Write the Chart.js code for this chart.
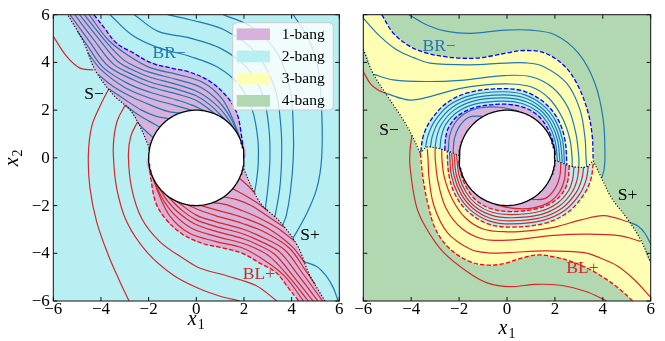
<!DOCTYPE html>
<html>
<head>
<meta charset="utf-8">
<script src="https://cdn.jsdelivr.net/npm/chart.js@4.4.1/dist/chart.umd.min.js"></script>
<style>
  html, body { margin:0; padding:0; background:#fff; width:665px; height:341px; overflow:hidden; }
  #c1 { position:absolute; left:0; top:0; }
  #c2 { position:absolute; left:340px; top:0; }
</style>
</head>
<body>
<canvas id="c1" width="345" height="341"></canvas>
<canvas id="c2" width="325" height="341"></canvas>
<script>
// ---------------- shared values ----------------
const tickValues = [-6, -4, -2, 0, 2, 4, 6];
const tickLabels = ['−6', '−4', '−2', '0', '2', '4', '6'];
const obstacle = { x: 0, y: 0, r: 2 };
const legendNames = ['1-bang', '2-bang', '3-bang', '4-bang'];

// ---------------- left panel ----------------
const L_Sminus = [[-5.44,6.07],[-4.74,4.88],[-4.25,3.69],[-3.48,2.64],[-2.78,2.01],[-2.36,1.31],[-1.94,0.34]];
const L_Splus  = [[1.94,-0.34],[2.36,-1.31],[2.78,-2.01],[3.48,-2.64],[4.25,-3.69],[4.74,-4.88],[5.44,-6.07]];
const L_BRminus = [[-4.3,6],[-3.9,5.5],[-3.34,4.8],[-2.64,4.4],[-1.94,4.0],[-1.0,3.75],[-0.3,3.6],[0.58,3.2],[1.28,2.57],[1.7,1.88],[1.9,0.9],[2.0,0.0]];
const L_BLplus  = [[-2.0,0.0],[-1.9,-0.9],[-1.7,-1.88],[-1.28,-2.57],[-0.58,-3.2],[0.3,-3.6],[1.0,-3.75],[1.94,-4.0],[2.64,-4.4],[3.34,-4.8],[3.9,-5.5],[4.3,-6]];
const L_topOut = [[-5.7,6.7],[-4.0,6.7]];
const L_botOut = [[5.7,-6.7],[4.0,-6.7]];

const leftUpperBand = [
  [[-4.5,6],[-3.7,4.95],[-2.9,4.32],[-1.94,3.78],[-0.8,3.5],[0.3,3.15],[1.1,2.45],[1.6,1.45],[1.96,0.42]],
  [[-4.7,6],[-3.9,5.0],[-3.1,4.15],[-2.5,3.8],[-1.94,3.58],[-0.8,3.28],[0.2,2.95],[0.95,2.35],[1.45,1.65],[1.81,0.85]],
  [[-4.9,6],[-4.1,5.0],[-3.3,4.05],[-2.6,3.65],[-1.94,3.38],[-0.8,3.07],[0.1,2.75],[0.8,2.25],[1.25,1.75],[1.58,1.23]],
  [[-5.1,6],[-4.3,4.95],[-3.5,3.95],[-2.7,3.5],[-1.94,3.18],[-0.8,2.87],[0.0,2.6],[0.6,2.2],[1.23,1.58]],
  [[-5.3,6],[-4.5,4.9],[-3.7,3.85],[-2.6,3.25],[-1.94,2.98],[-0.8,2.67],[0.0,2.4],[0.81,1.83]],
  [[-4.99,5.3],[-4.6,4.75],[-3.9,3.78],[-2.8,3.08],[-1.94,2.75],[-0.8,2.42],[-0.2,2.22],[0.35,1.97]],
  [[-4.55,4.4],[-4.0,3.7],[-3.0,2.95],[-1.94,2.5],[-0.9,2.2],[-0.17,1.99]],
  [[-4.12,3.5],[-3.5,3.0],[-2.7,2.55],[-1.94,2.22],[-1.2,1.95],[-0.68,1.88]],
  [[-3.68,2.9],[-3.0,2.45],[-2.3,2.0],[-1.7,1.75],[-1.15,1.64]],
  [[-2.99,2.2],[-2.5,1.85],[-2.0,1.55],[-1.53,1.29]],
  [[-2.47,1.5],[-2.2,1.2],[-1.81,0.85]]
];
const leftLowerBand = [
  [[4.5,-6],[3.7,-4.95],[2.9,-4.32],[1.94,-3.78],[0.8,-3.5],[-0.3,-3.15],[-1.1,-2.45],[-1.6,-1.45],[-1.96,-0.42]],
  [[4.7,-6],[3.9,-5.0],[3.1,-4.15],[2.5,-3.8],[1.94,-3.58],[0.8,-3.28],[-0.2,-2.95],[-0.95,-2.35],[-1.45,-1.65],[-1.81,-0.85]],
  [[4.9,-6],[4.1,-5.0],[3.3,-4.05],[2.6,-3.65],[1.94,-3.38],[0.8,-3.07],[-0.1,-2.75],[-0.8,-2.25],[-1.25,-1.75],[-1.58,-1.23]],
  [[5.1,-6],[4.3,-4.95],[3.5,-3.95],[2.7,-3.5],[1.94,-3.18],[0.8,-2.87],[0.0,-2.6],[-0.6,-2.2],[-1.23,-1.58]],
  [[5.3,-6],[4.5,-4.9],[3.7,-3.85],[2.6,-3.25],[1.94,-2.98],[0.8,-2.67],[0.0,-2.4],[-0.81,-1.83]],
  [[4.99,-5.3],[4.6,-4.75],[3.9,-3.78],[2.8,-3.08],[1.94,-2.75],[0.8,-2.42],[0.2,-2.22],[-0.35,-1.97]],
  [[4.55,-4.4],[4.0,-3.7],[3.0,-2.95],[1.94,-2.5],[0.9,-2.2],[0.17,-1.99]],
  [[4.12,-3.5],[3.5,-3.0],[2.7,-2.55],[1.94,-2.22],[1.2,-1.95],[0.68,-1.88]],
  [[3.68,-2.9],[3.0,-2.45],[2.3,-2.0],[1.7,-1.75],[1.15,-1.64]],
  [[2.99,-2.2],[2.5,-1.85],[2.0,-1.55],[1.53,-1.29]],
  [[2.47,-1.5],[2.2,-1.2],[1.81,-0.85]]
];
const leftOuterBlue = [
  [[-3.62,6],[-2.7,5.15],[-1.6,4.62],[-0.26,4.25],[0.9,3.8],[1.8,3.05],[2.35,2.0],[2.58,0.8],[2.6,-0.2],[2.52,-1.0],[2.44,-1.45]],
  [[-2.6,6],[-1.6,5.3],[-0.26,5.02],[1.0,4.6],[2.1,3.8],[2.8,2.6],[3.05,1.2],[3.09,0.0],[3.02,-1.1],[2.9,-2.1]],
  [[-1.2,6],[-0.26,5.79],[1.2,5.35],[2.5,4.4],[3.3,2.9],[3.55,1.3],[3.58,0.0],[3.5,-1.3],[3.3,-2.47]],
  [[1.13,6],[2.3,5.5],[3.4,4.4],[3.95,2.8],[4.07,1.2],[4.07,0.0],[3.95,-1.4],[3.78,-2.4],[3.62,-2.83]],
  [[4.07,6],[4.7,5.0],[5.1,3.8],[5.26,2.0],[5.26,0.0],[5.05,-1.3],[4.6,-2.4],[4.04,-3.4]],
  [[4.52,-4.35],[5.05,-4.55],[5.45,-4.95],[5.75,-5.45],[5.95,-6]]
];
const leftOuterRed = [
  [[-6,5.09],[-5.44,4.25],[-4.88,3.76],[-4.32,3.69]],
  [[-3.67,2.9],[-4.05,2.15],[-4.39,1.31],[-4.53,0.1],[-4.46,-1.28],[-4.18,-2.68],[-3.69,-4.08],[-3.2,-5.2],[-2.82,-6]],
  [[-2.99,2.2],[-3.3,1.6],[-3.45,0.9],[-3.48,0.1],[-3.34,-1.28],[-2.92,-2.68],[-2.08,-3.94],[-0.96,-4.92],[0.16,-5.5],[1.0,-5.8],[1.83,-6]],
  [[-2.47,1.5],[-2.75,0.9],[-2.85,0.1],[-2.71,-1.28],[-2.29,-2.54],[-1.52,-3.52],[-0.54,-4.22],[0.16,-4.63],[1.3,-4.95],[2.5,-5.35],[3.38,-6]]
];

// ---------------- right panel ----------------
const R_Sminus = [[-6.0,4.55],[-5.6,3.55],[-5.0,2.6],[-4.4,1.7],[-3.97,0.95],[-3.62,0.18]];
const R_dotL   = [[-3.62,0.18],[-3.35,0.45],[-3.0,0.42],[-2.6,0.32],[-2.3,0.22],[-2.0,0.1]];
const R_dotR   = [[2.0,-0.1],[2.3,-0.22],[2.6,-0.33],[3.0,-0.4],[3.35,-0.36],[3.6,-0.12]];
const R_Splus  = [[3.6,-0.12],[3.95,-0.85],[4.37,-1.69],[5.06,-2.6],[5.62,-3.51],[6.0,-4.4]];
const R_BRout  = [[-5.23,6],[-4.75,5.23],[-4.05,4.67],[-3.35,4.39],[-2.66,4.25],[-1.96,4.18],[-1.27,4.18],[-0.6,4.28],[0.0,4.4],[0.75,4.5],[1.59,4.39],[2.42,3.83],[2.98,2.99],[3.39,1.88],[3.56,0.9],[3.6,-0.12]];
const R_BRin   = [[-3.6,0.25],[-3.5,0.9],[-3.2,1.55],[-2.52,2.3],[-1.55,2.75],[-0.2,2.9],[0.75,2.78],[1.59,2.29],[2.14,1.59],[2.42,0.75],[2.5,-0.28]];
const R_BRcore = [[-2.6,0.32],[-2.55,0.9],[-2.4,1.35],[-2.0,1.8],[-1.3,2.12],[-0.2,2.25],[0.6,2.15],[1.2,1.85],[1.6,1.4],[1.9,0.75],[2.02,0.1]];
const R_BLout  = [[5.25,-6],[4.7,-5.5],[4.09,-5.05],[3.4,-4.65],[2.7,-4.35],[1.96,-4.15],[1.31,-4.07],[0.6,-4.2],[-0.09,-4.42],[-0.75,-4.5],[-1.55,-4.35],[-2.4,-3.8],[-2.98,-3.0],[-3.3,-1.95],[-3.5,-0.9],[-3.62,0.18]];
const R_BLin   = [[3.6,-0.25],[3.5,-0.9],[3.2,-1.55],[2.52,-2.3],[1.55,-2.75],[0.2,-2.9],[-0.75,-2.78],[-1.59,-2.29],[-2.14,-1.59],[-2.42,-0.75],[-2.5,0.28]];
const R_BLcore = [[2.6,-0.32],[2.55,-0.9],[2.4,-1.35],[2.0,-1.8],[1.3,-2.12],[0.2,-2.25],[-0.6,-2.15],[-1.2,-1.85],[-1.6,-1.4],[-1.9,-0.75],[-2.02,-0.1]];
const R_tlOut = [[-6.7,4.6],[-6.7,6.7],[-5.3,6.7]];
const R_brOut = [[6.7,-4.5],[6.7,-6.7],[5.3,-6.7]];
const fullSquare = [[-7,-7],[7,-7],[7,7],[-7,7]];

const rightBlue = [
  [[-4.1,6],[-3.3,5.55],[-2.5,5.3],[-1.5,5.22],[-0.1,5.35],[1.0,5.35],[2.0,5.16],[2.98,4.39],[3.67,3.13],[4.02,1.59],[4.09,0.05],[4.05,-0.5],[3.95,-0.85]],
  [[5.12,-2.7],[5.45,-2.85],[5.75,-3.15],[6.02,-3.65]],
  [[-6.0,5.85],[-5.3,5.09],[-4.61,4.53],[-3.9,4.2],[-3.22,3.97],[-1.55,3.9],[-0.09,3.97],[0.8,3.98],[1.52,3.83],[2.49,3.13],[3.05,2.01],[3.26,0.8],[3.3,0.0],[3.33,-0.37]],
  [[-5.57,3.5],[-4.75,3.27],[-3.35,3.2],[-1.96,3.25],[-0.09,3.45],[1.0,3.4],[1.9,2.95],[2.55,2.1],[2.88,1.0],[3.0,0.0],[3.0,-0.4]],
  [[-5.06,2.7],[-4.05,2.42],[-3.1,2.6],[-2.0,2.9],[-1.0,3.05],[0,3.1],[1.0,2.98],[1.75,2.5],[2.3,1.7],[2.62,0.8],[2.72,0.0],[2.72,-0.38]],
  [[-3.4,0.44],[-3.31,0.9],[-3.04,1.51],[-2.42,2.2],[-1.5,2.62],[-0.2,2.77],[0.72,2.65],[1.51,2.2],[2.03,1.55],[2.32,0.75],[2.4,-0.25]],
  [[-3.2,0.44],[-3.12,0.9],[-2.88,1.47],[-2.31,2.1],[-1.45,2.5],[-0.2,2.64],[0.69,2.53],[1.43,2.11],[1.92,1.51],[2.21,0.75],[2.31,-0.2]],
  [[-3.0,0.42],[-2.93,0.9],[-2.72,1.43],[-2.21,2.0],[-1.4,2.38],[-0.2,2.51],[0.66,2.4],[1.36,2.03],[1.82,1.47],[2.11,0.75],[2.21,-0.17]],
  [[-2.8,0.37],[-2.74,0.9],[-2.56,1.39],[-2.1,1.9],[-1.35,2.25],[-0.2,2.38],[0.63,2.28],[1.28,1.94],[1.71,1.44],[2.0,0.75],[2.11,-0.14]],
  [[-2.45,0.27],[-2.4,0.9],[-2.2,1.42],[-1.78,1.85],[-1.1,2.1],[-0.3,2.12],[0.5,1.96]],
  [[-2.25,0.2],[-2.2,0.8],[-2.0,1.3],[-1.6,1.7],[-1.05,1.75]]
];
const rightRed = [
  [[4.16,-6],[3.3,-5.6],[2.3,-5.35],[1.2,-5.3],[0.13,-5.4],[-0.8,-5.25],[-1.55,-4.85],[-2.66,-3.95],[-3.4,-2.9],[-3.8,-1.97],[-4.05,-0.36],[-4.05,0.3],[-3.97,0.95]],
  [[-5.06,2.7],[-5.4,2.85],[-5.7,3.1],[-6.02,3.65]],
  [[6.0,-5.85],[5.3,-5.09],[4.61,-4.53],[3.9,-4.2],[3.22,-3.97],[1.55,-3.9],[0.09,-3.97],[-0.8,-3.98],[-1.52,-3.83],[-2.49,-3.13],[-3.05,-2.01],[-3.26,-0.8],[-3.3,0.0],[-3.33,0.37]],
  [[5.57,-3.5],[4.75,-3.27],[3.35,-3.2],[1.96,-3.25],[0.09,-3.45],[-1.0,-3.4],[-1.9,-2.95],[-2.55,-2.1],[-2.88,-1.0],[-3.0,0.0],[-3.0,0.4]],
  [[5.12,-2.7],[4.05,-2.42],[3.1,-2.6],[2.0,-2.9],[1.0,-3.05],[0,-3.1],[-1.0,-2.98],[-1.75,-2.5],[-2.3,-1.7],[-2.62,-0.8],[-2.72,0.0],[-2.72,0.38]],
  [[3.4,-0.33],[3.31,-0.9],[3.04,-1.51],[2.42,-2.2],[1.5,-2.62],[0.2,-2.77],[-0.72,-2.65],[-1.51,-2.2],[-2.03,-1.55],[-2.32,-0.75],[-2.4,0.25]],
  [[3.2,-0.39],[3.12,-0.9],[2.88,-1.47],[2.31,-2.1],[1.45,-2.5],[0.2,-2.64],[-0.69,-2.53],[-1.43,-2.11],[-1.92,-1.51],[-2.21,-0.75],[-2.31,0.2]],
  [[3.0,-0.4],[2.93,-0.9],[2.72,-1.43],[2.21,-2.0],[1.4,-2.38],[0.2,-2.51],[-0.66,-2.4],[-1.36,-2.03],[-1.82,-1.47],[-2.11,-0.75],[-2.21,0.17]],
  [[2.8,-0.37],[2.74,-0.9],[2.56,-1.39],[2.1,-1.9],[1.35,-2.25],[0.2,-2.38],[-0.63,-2.28],[-1.28,-1.94],[-1.71,-1.44],[-2.0,-0.75],[-2.11,0.14]],
  [[2.45,-0.27],[2.4,-0.9],[2.2,-1.42],[1.78,-1.85],[1.1,-2.1],[0.3,-2.12],[-0.5,-1.96]],
  [[2.25,-0.2],[2.2,-0.8],[2.0,-1.3],[1.6,-1.7],[1.05,-1.75]]
];

// annotation texts (anchor in data units)
const leftNotes = [
  { text: 'BR−', x: -1.14, y: 4.36, color: '#1f77b4' },
  { text: 'S−',  x: -4.29, y: 2.68, color: '#000000' },
  { text: 'S+',  x: 4.77,  y: -3.27, color: '#000000' },
  { text: 'BL+', x: 2.63,  y: -4.87, color: '#d62728' }
];
const rightNotes = [
  { text: 'BR−', x: -2.83, y: 4.67, color: '#1f77b4' },
  { text: 'S−',  x: -4.92, y: 1.14, color: '#000000' },
  { text: 'S+',  x: 5.03,  y: -1.59, color: '#000000' },
  { text: 'BL+', x: 3.15,  y: -4.63, color: '#d62728' }
];

// ---------------- styling / helpers ----------------
const COL = {
  purple: 'rgb(216,178,218)', cyan: 'rgb(183,239,242)', yellow: 'rgb(255,255,179)', green: 'rgb(178,216,178)',
  blue: '#1f77b4', red: '#d62728', bBlue: '#0000ff', bRed: '#ff0000'
};
const FONT = '"Liberation Serif", "Times New Roman", serif';
const DASH = [4.5, 2];
const DOT = [1.2, 1.8];
const TENSION = 0.35;

const toXY = a => a.map(p => ({ x: p[0], y: p[1] }));
const rev = a => a.slice().reverse();
const center = [[obstacle.x, obstacle.y]];

function area(poly, color) {
  return { data: toXY(poly), showLine: true, fill: 'shape', backgroundColor: color,
    borderColor: color, borderWidth: 0.6, pointRadius: 0, tension: TENSION, clip: 0 };
}
function curve(a, color, width, dash) {
  return { data: toXY(a), showLine: true, fill: false, borderColor: color,
    borderWidth: width || 1.2, borderDash: dash || [], pointRadius: 0, tension: TENSION };
}
function disk() {
  const pts = [];
  for (let i = 0; i <= 144; i++) {
    const t = i / 144 * 2 * Math.PI;
    pts.push([obstacle.x + obstacle.r * Math.cos(t), obstacle.y + obstacle.r * Math.sin(t)]);
  }
  return { data: toXY(pts), showLine: true, fill: 'shape', backgroundColor: '#ffffff',
    borderColor: '#000000', borderWidth: 1.3, pointRadius: 0, tension: 0 };
}
function ordered(list) { list.forEach((d, i) => { d.order = -i; }); return list; }

const leftDatasets = ordered([
  area(fullSquare, COL.cyan),
  area([...rev(L_Sminus), ...L_topOut, ...L_BRminus, ...center], COL.purple),
  area([...L_Splus, ...L_botOut, ...rev(L_BLplus), ...center], COL.purple),
  ...leftUpperBand.map(a => curve(a, COL.blue)),
  ...leftOuterBlue.map(a => curve(a, COL.blue)),
  ...leftLowerBand.map(a => curve(a, COL.red)),
  ...leftOuterRed.map(a => curve(a, COL.red)),
  curve(L_BRminus, COL.bBlue, 1.3, DASH),
  curve(L_BLplus, COL.bRed, 1.3, DASH),
  curve(L_Sminus, '#000', 1.1, DOT),
  curve(L_Splus, '#000', 1.1, DOT),
  disk()
]);

const rightDatasets = ordered([
  area(fullSquare, COL.green),
  area([...R_BRout, ...rev(R_dotR).slice(1, 4), ...rev(R_BRin), ...rev(R_Sminus).slice(1), ...R_tlOut], COL.yellow),
  area([...R_BLout, ...R_dotL.slice(1, 4), ...rev(R_BLin), ...R_Splus.slice(1), ...R_brOut], COL.yellow),
  area([...R_BRin, ...rev(R_dotR).slice(4), ...center, ...rev(R_dotL).slice(0, 5)], COL.cyan),
  area([...R_BLin, ...R_dotL.slice(4), ...center, ...R_dotR.slice(0, 5)], COL.cyan),
  area([...R_BRcore, ...center, ...rev(R_dotL).slice(0, 2)], COL.purple),
  area([...R_BLcore, ...center, ...R_dotR.slice(0, 2)], COL.purple),
  ...rightBlue.map(a => curve(a, COL.blue)),
  ...rightRed.map(a => curve(a, COL.red)),
  curve(R_BRout, COL.bBlue, 1.3, DASH),
  curve(R_BRin, COL.bBlue, 1.3, DASH),
  curve(R_BRcore, COL.bBlue, 1.3, DASH),
  curve(R_BLout, COL.bRed, 1.3, DASH),
  curve(R_BLin, COL.bRed, 1.3, DASH),
  curve(R_BLcore, COL.bRed, 1.3, DASH),
  curve(R_Sminus, '#000', 1.1, DOT),
  curve(R_dotL, '#000', 1.1, DOT),
  curve(R_dotR, '#000', 1.1, DOT),
  curve(R_Splus, '#000', 1.1, DOT),
  disk()
]);

function subLabel(ctx, main, sub, cx, baseY) {
  ctx.font = 'italic 20px ' + FONT;
  const w1 = ctx.measureText(main).width;
  ctx.font = '14px ' + FONT;
  const w2 = ctx.measureText(sub).width;
  const x0 = cx - (w1 + w2 + 1) / 2;
  ctx.fillStyle = '#000'; ctx.textAlign = 'left'; ctx.textBaseline = 'alphabetic';
  ctx.font = 'italic 20px ' + FONT; ctx.fillText(main, x0, baseY);
  ctx.font = '14px ' + FONT; ctx.fillText(sub, x0 + w1 + 1, baseY + 4);
}

const overlayPlugin = {
  id: 'overlay',
  afterDatasetsDraw(chart, args, o) {
    const ctx = chart.ctx, a = chart.chartArea, sx = chart.scales.x, sy = chart.scales.y;
    ctx.save();
    ctx.textAlign = 'center'; ctx.textBaseline = 'middle';
    ctx.font = '17.5px ' + FONT;
    o.notes.forEach(n => { ctx.fillStyle = n.color; ctx.fillText(n.text, sx.getPixelForValue(n.x), sy.getPixelForValue(n.y)); });
    if (o.legend) {
      const bw = 100.6, bh = 87.3, bx = a.right - 6 - bw, by = a.top + 8;
      ctx.beginPath();
      if (ctx.roundRect) ctx.roundRect(bx, by, bw, bh, 4); else ctx.rect(bx, by, bw, bh);
      ctx.fillStyle = 'rgba(255,255,255,0.8)'; ctx.fill();
      ctx.strokeStyle = '#cccccc'; ctx.lineWidth = 1; ctx.stroke();
      const cols = [COL.purple, COL.cyan, COL.yellow, COL.green];
      legendNames.forEach((name, i) => {
        const cy = by + 11.5 + i * 22.2;
        ctx.fillStyle = cols[i]; ctx.fillRect(bx + 4, cy - 5.8, 33.3, 11.7);
        ctx.fillStyle = '#000'; ctx.font = '15.5px ' + FONT; ctx.textAlign = 'left'; ctx.textBaseline = 'middle';
        ctx.fillText(name, bx + 49, cy + 0.5);
      });
    }
    // frame and inward ticks
    ctx.strokeStyle = '#111'; ctx.lineWidth = 1; ctx.setLineDash([]);
    ctx.strokeRect(a.left, a.top, a.right - a.left, a.bottom - a.top);
    ctx.beginPath();
    tickValues.forEach(v => {
      const px = sx.getPixelForValue(v), py = sy.getPixelForValue(v);
      ctx.moveTo(px, a.bottom); ctx.lineTo(px, a.bottom - 4);
      ctx.moveTo(px, a.top); ctx.lineTo(px, a.top + 4);
      ctx.moveTo(a.left, py); ctx.lineTo(a.left + 4, py);
      ctx.moveTo(a.right, py); ctx.lineTo(a.right - 4, py);
    });
    ctx.stroke();
    // tick labels (positions from the library's scales)
    ctx.fillStyle = '#000';
    ctx.font = '17px ' + FONT;
    ctx.textAlign = 'center'; ctx.textBaseline = 'middle';
    tickValues.forEach((v, i) => ctx.fillText(tickLabels[i], sx.getPixelForValue(v), a.bottom + 8.5));
    if (o.yLabels) {
      ctx.textAlign = 'right';
      tickValues.forEach((v, i) => ctx.fillText(tickLabels[i], a.left - 3.5, sy.getPixelForValue(v) + 0.5));
    }
    // axis titles
    subLabel(ctx, 'x', '1', (a.left + a.right) / 2, o.xTitleY);
    if (o.yTitleX != null) {
      ctx.save();
      ctx.translate(o.yTitleX, (a.top + a.bottom) / 2);
      ctx.rotate(-Math.PI / 2);
      subLabel(ctx, 'x', '2', 0, 0);
      ctx.restore();
    }
    ctx.restore();
  }
};

function axis(size) {
  return {
    type: 'linear', min: -6, max: 6,
    afterBuildTicks: s => { s.ticks = tickValues.map(v => ({ value: v })); },
    grid: { display: false, drawTicks: false },
    border: { display: false },
    ticks: { display: false },
    afterFit: s => { if (s.isHorizontal()) s.height = size; else s.width = size; }
  };
}

function config(datasets, pad, yWidth, overlay) {
  return {
    type: 'scatter',
    data: { datasets },
    plugins: [overlayPlugin],
    options: {
      responsive: false, animation: false, devicePixelRatio: 1, events: [],
      layout: { padding: pad },
      elements: { line: { capBezierPoints: false }, point: { radius: 0 } },
      plugins: { legend: { display: false }, tooltip: { enabled: false }, overlay },
      scales: { x: axis(40), y: axis(yWidth) }
    }
  };
}

new Chart(document.getElementById('c1'), config(leftDatasets,
  { left: 0, right: 5.7, top: 14.7, bottom: 0 }, 53.3,
  { notes: leftNotes, legend: true, yLabels: true, xTitleY: 325, yTitleX: 18 }));
new Chart(document.getElementById('c2'), config(rightDatasets,
  { left: 0, right: 14.3, top: 14.7, bottom: 0 }, 23.3,
  { notes: rightNotes, legend: false, yLabels: false, xTitleY: 334, yTitleX: null }));
</script>
</body>
</html>
